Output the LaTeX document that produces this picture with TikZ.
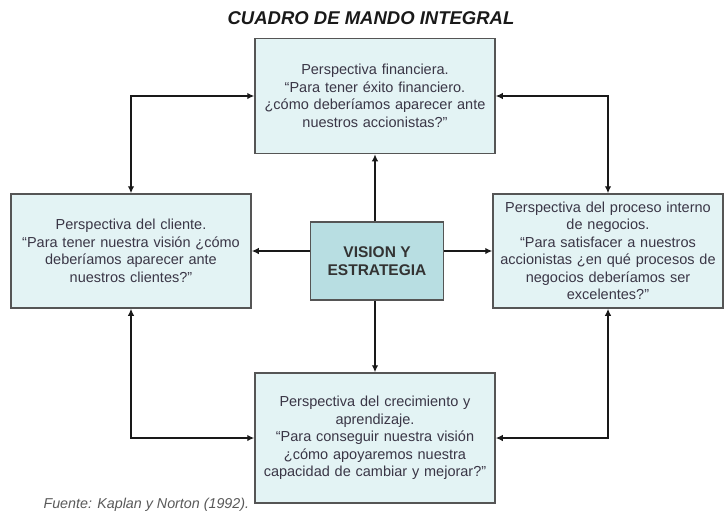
\documentclass[tikz,border=0pt]{standalone}
\usepackage{fontspec}
\setmainfont{Liberation Sans}
\usetikzlibrary{arrows.meta}
\definecolor{boxfill}{HTML}{E3F3F4}
\definecolor{cfill}{HTML}{B8DEE2}
\definecolor{boxdraw}{HTML}{555555}
\definecolor{txt}{HTML}{3A3646}
\begin{document}
\begin{tikzpicture}[x=1pt,y=-1pt,
  persp/.style={draw=boxdraw,line width=1.5pt,fill=boxfill,align=center,
    inner sep=2pt,text=txt,font=\fontsize{14.5}{17.5}\selectfont},
  vis/.style={draw=boxdraw,line width=1.5pt,fill=cfill,align=center,
    text=black!80,font=\fontsize{15.5}{18.5}\selectfont\bfseries},
  conn/.style={line width=1.8pt,black!90,-{Latex[length=7pt,width=6.5pt]}},
  dconn/.style={line width=1.8pt,black!90,{Latex[length=7pt,width=6.5pt]}-{Latex[length=7pt,width=6.5pt]}}]
\useasboundingbox (0,0) rectangle (725,512);
\node[font=\fontsize{18.5}{20}\selectfont\bfseries\itshape,text=black!90] (title) at (371,18) {CUADRO DE MANDO INTEGRAL};
\node[persp,minimum width=240pt,minimum height=115pt,text width=236pt] (top) at (375,96) {Perspectiva financiera.\\``Para tener éxito financiero.\\¿cómo deberíamos aparecer ante\\nuestros accionistas?''};
\node[persp,minimum width=240pt,minimum height=114pt,text width=236pt] (left) at (131,251) {Perspectiva del cliente.\\``Para tener nuestra visión ¿cómo\\deberíamos aparecer ante\\nuestros clientes?''};
\node[vis,minimum width=133pt,minimum height=78pt] (c) at (377,261) {VISION Y\\ESTRATEGIA};
\node[persp,minimum width=228pt,minimum height=114pt,text width=226pt] (right) at (608,251) {Perspectiva del proceso interno\\de negocios.\\``Para satisfacer a nuestros\\accionistas ¿en qué procesos de\\negocios deberíamos ser\\excelentes?''};
\node[persp,minimum width=240pt,minimum height=130pt,text width=236pt] (bot) at (375,438) {Perspectiva del crecimiento y\\aprendizaje.\\``Para conseguir nuestra visión\\¿cómo apoyaremos nuestra\\capacidad de cambiar y mejorar?''};
\node[font=\fontsize{14.3}{16}\selectfont\itshape,text=black!65,anchor=west] (src) at (40,505) {Fuente: Kaplan y Norton (1992).};
\draw[conn] (c.north -| top.south) -- (top.south);
\draw[conn] (c.south -| bot.north) -- (bot.north);
\draw[conn] (left.east -| c.west) -- (left.east);
\draw[conn] (right.west -| c.east) -- (right.west);
\draw[dconn] (left.north) |- (top.west);
\draw[dconn] (right.north) |- (top.east);
\draw[dconn] (left.south) |- (bot.west);
\draw[dconn] (right.south) |- (bot.east);
\end{tikzpicture}
\end{document}
